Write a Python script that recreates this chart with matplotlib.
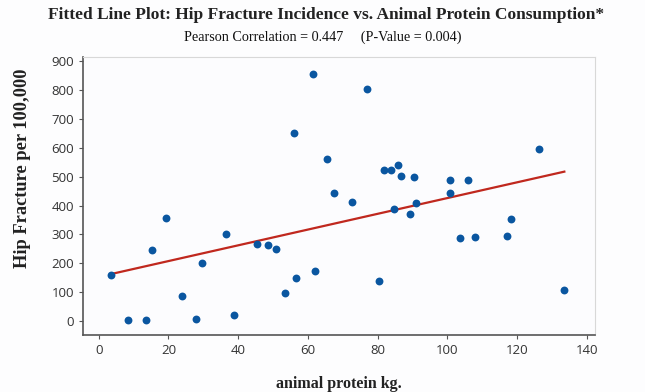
import numpy as np
import matplotlib.pyplot as plt

# animal protein (kg) vs hip fracture incidence per 100,000
protein = [3.4, 8.5, 13.6, 15.4, 19.4, 23.9, 27.8, 29.7, 36.5, 38.9,
           45.4, 48.7, 50.9, 53.4, 55.9, 56.6, 61.6, 62.0, 65.6, 67.4,
           72.8, 77.0, 80.4, 81.8, 83.8, 84.7, 85.8, 86.8, 89.2, 90.4,
           90.9, 100.7, 100.9, 103.6, 106.1, 107.9, 117.2, 118.4, 126.3, 133.6]
fracture = [160, 3, 3, 245, 358, 88, 8, 200, 300, 22,
            267, 262, 248, 98, 650, 150, 854, 172, 562, 442,
            412, 802, 140, 522, 522, 387, 540, 503, 369, 500,
            408, 489, 442, 288, 489, 292, 295, 354, 595, 108]
xticks = [0, 20, 40, 60, 80, 100, 120, 140]
yticks = [0, 100, 200, 300, 400, 500, 600, 700, 800, 900]

x = np.array(protein)
y = np.array(fracture)
b, a = np.polyfit(x, y, 1)
xl = np.array([x.min(), x.max()])

fig = plt.figure(figsize=(6.45, 3.92), dpi=100)
fig.patch.set_facecolor('#fdfdfe')
ax = fig.add_axes([0.1287, 0.1454, 0.7938, 0.71])
ax.set_facecolor('#fcfcfe')

ax.plot(xl, a + b * xl, color='#c0281e', lw=1.6, zorder=2)
ax.scatter(x, y, s=32, color='#0a56a0', zorder=3, linewidths=0)

ax.set_xlim(-4.5, 142.4)
ax.set_ylim(-48, 915)
ax.set_xticks(xticks)
ax.set_yticks(yticks)
ax.tick_params(direction='out', length=3, width=0.8, colors='#555555',
               labelcolor='#333333', labelsize=9.5)
for t in ax.get_xticklabels() + ax.get_yticklabels():
    t.set_family('Open Sans')

for s in ['top', 'right']:
    ax.spines[s].set_color('#d8d8d8')
for s in ['left', 'bottom']:
    ax.spines[s].set_color('#555555')
    ax.spines[s].set_linewidth(1.2)

serif = 'Liberation Serif'
fig.text(0.505, 0.962, 'Fitted Line Plot: Hip Fracture Incidence vs. Animal Protein Consumption*',
         ha='center', va='center', family=serif, weight='bold', fontsize=12.5, color='#222222')
fig.text(0.50, 0.905, 'Pearson Correlation = 0.447     (P-Value = 0.004)',
         ha='center', va='center', family=serif, fontsize=10.2, color='#111111')
ax.set_xlabel('animal protein kg.', family=serif, weight='bold', fontsize=11.5,
              color='#222222', labelpad=14)
ax.set_ylabel('Hip Fracture per 100,000', family=serif, weight='bold', fontsize=13.2,
              color='#222222')
ax.yaxis.set_label_coords(-0.102, 0.598)

plt.savefig('out.png', dpi=100, facecolor=fig.get_facecolor())
